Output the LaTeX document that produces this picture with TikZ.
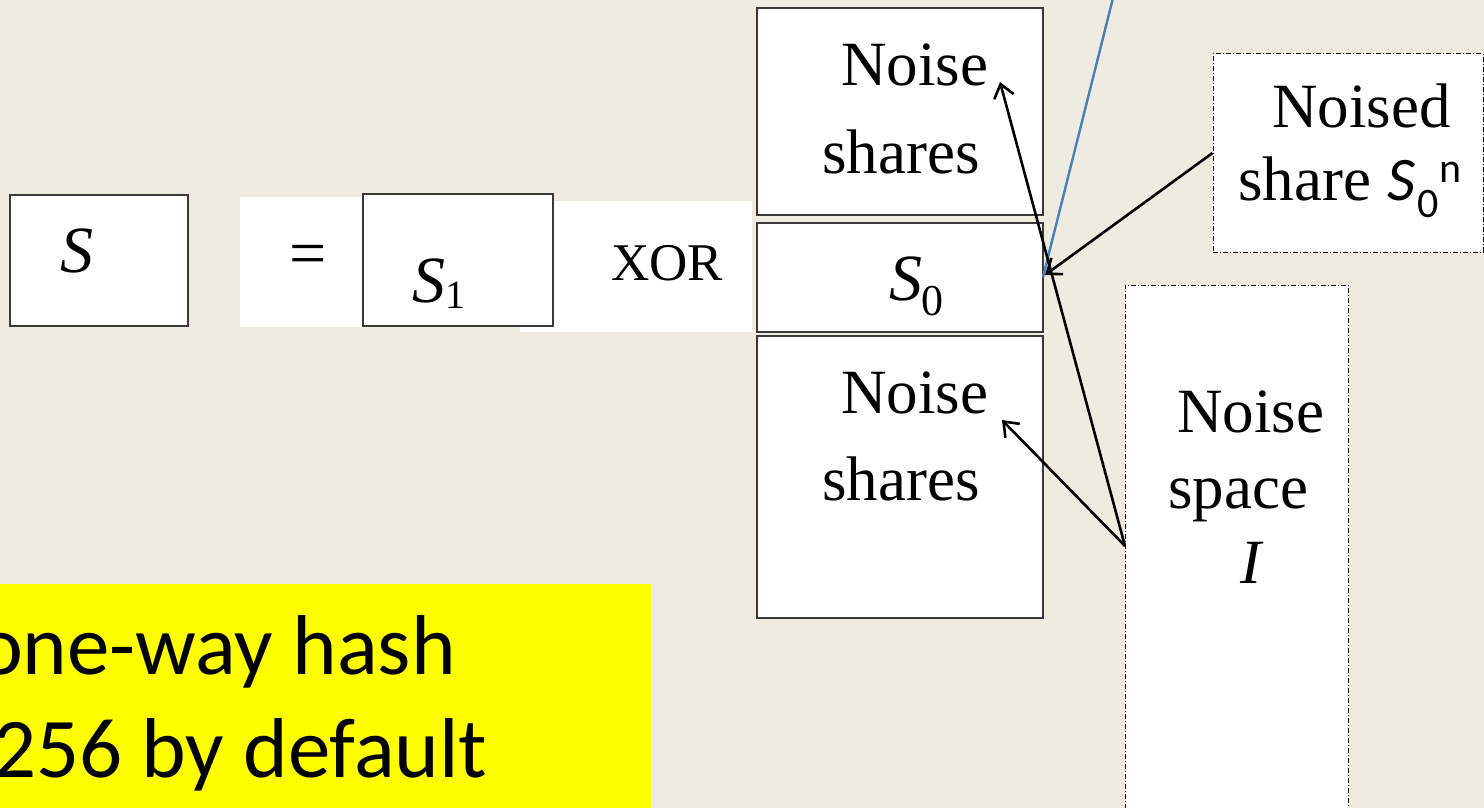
\documentclass[tikz,border=0pt]{standalone}
\usepackage{fontspec}
\setmainfont{Liberation Serif}
\newfontfamily\carl{Carlito}
\usetikzlibrary{arrows.meta}
\definecolor{bg}{HTML}{EEEBE0}
\definecolor{bluel}{HTML}{4A7EBB}
\definecolor{bord}{HTML}{3A3A3A}
\definecolor{hlyellow}{HTML}{FFFF00}
\tikzset{
  box/.style={draw=bord, line width=1.3pt, fill=white, inner sep=0pt, rectangle},
  dbox/.style={draw=black, line width=1pt, fill=white, dash pattern=on 5pt off 2pt on 1pt off 2pt, inner sep=0pt, rectangle},
  wbg/.style={fill=white, inner sep=0pt, anchor=north west},
  txt/.style={inner sep=0pt, anchor=base west, font=\fontsize{63}{76}\selectfont},
  itx/.style={inner sep=0pt, anchor=base west, font=\itshape\fontsize{66}{80}\selectfont},
  hltxt/.style={inner sep=0pt, anchor=base west, font={\carl\fontsize{85}{104}\selectfont}},
  arr/.style={line width=2.6pt, -{Straight Barb[length=13pt,width=20pt]}},
}
\begin{document}
\begin{tikzpicture}[x=1pt,y=-1pt]
\useasboundingbox (0,0) rectangle (1484,808);
\clip (0,0) rectangle (1484,808);
\fill[bg] (0,0) rectangle (1484,808);

% yellow highlight
\node[fill=hlyellow, inner sep=0pt, minimum width=671, minimum height=246, anchor=north east] (hl) at (651,584) {};
\node[hltxt] (hl1) at (-22,674) {one-way hash};
\node[hltxt] (hl2) at (-7,777) {256 by default};

% left row
\node[box, minimum width=178, minimum height=131] (Sbox) at (99,260.5) {};
\node[wbg, minimum width=160, minimum height=130] (eqbg) at (240,197) {};
\node[wbg, minimum width=232, minimum height=131] (xorbg) at (520,201) {};
\node[box, minimum width=190, minimum height=132] (S1box) at (458,260) {};

\node[itx] (tS) at (60,272) {S};
\node[inner sep=0pt, font=\fontsize{66}{80}\selectfont] (teq) at (308,260) {=};
\node[itx] (tS1) at (412,302) {S};
\node[inner sep=0pt, anchor=base west, font=\fontsize{40}{48}\selectfont] (tS1sub) at (445,308) {1};
\node[inner sep=0pt, anchor=base west, font=\fontsize{53}{64}\selectfont] (txor) at (611,280) {XOR};

% share stack
\node[box, minimum width=286, minimum height=207] (topbox) at (900,111.5) {};
\node[box, minimum width=286, minimum height=109] (s0box) at (900,277.5) {};
\node[box, minimum width=286, minimum height=282] (botbox) at (900,477) {};

\node[txt] (tN1) at (841,85) {Noise};
\node[txt] (tsh1) at (822,173) {shares};
\node[itx] (tS0) at (889,300) {S};
\node[inner sep=0pt, anchor=base west, font=\fontsize{44}{52}\selectfont] (tS0sub) at (921,315) {0};
\node[txt] (tN2) at (841,413) {Noise};
\node[txt] (tsh2) at (822,500) {shares};

% dash-dotted boxes
\node[dbox, minimum width=270, minimum height=198] (nsbox) at (1348,153) {};
\node[dbox, minimum width=223, minimum height=545] (spbox) at (1236.5,557.5) {};

\node[txt] (tNd) at (1272,127) {Noised};
\node[txt] (tshare) at (1238,200) {share};
\node[inner sep=0pt, anchor=base west, font={\carl\itshape\fontsize{62}{74}\selectfont}] (tSn) at (1387,200) {S};
\node[inner sep=0pt, anchor=base west, font={\carl\fontsize{42}{50}\selectfont}] (tSnsub) at (1417,217) {0};
\node[inner sep=0pt, anchor=base west, font={\carl\fontsize{42}{50}\selectfont}] (tSnsup) at (1439,182) {n};

\node[txt] (tN3) at (1177,432) {Noise};
\node[txt] (tsp) at (1168,508) {space};
\node[txt, font=\itshape\fontsize{63}{76}\selectfont] (tI) at (1240,583) {I};

% connectors
\coordinate (blueTop) at (1113,-2);
\coordinate (junc) at (1043,277);
\coordinate (tipN) at (1045,275);
\coordinate (src) at (1125,546);
\coordinate (tipTop) at (1000,82);
\coordinate (tipBot) at (1002,420);

\draw[bluel, line width=2.4pt] (blueTop) -- (junc);
\draw[arr] (nsbox.west) -- (tipN);
\draw[arr] (src) -- (tipTop);
\draw[arr] (src) -- (tipBot);
\end{tikzpicture}
\end{document}
